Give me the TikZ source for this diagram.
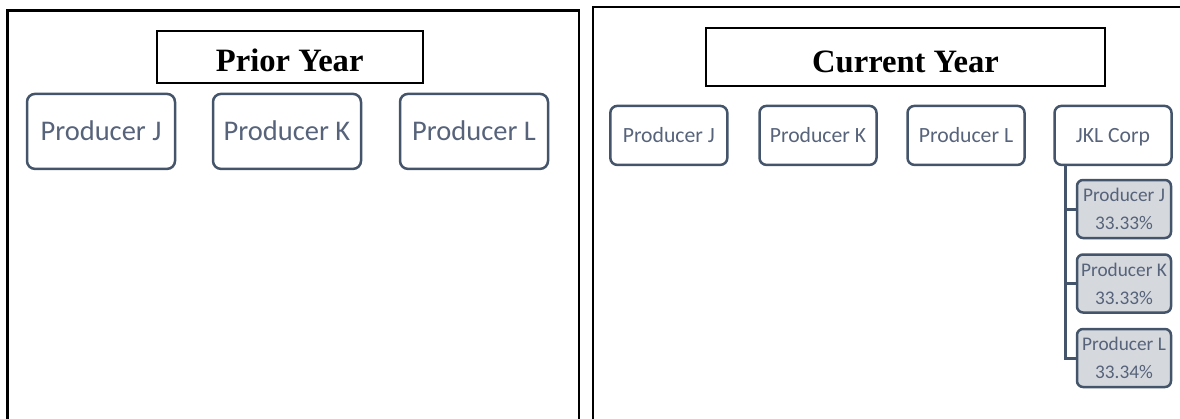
\documentclass[tikz,border=0pt]{standalone}
\usepackage{fontspec}
\setmainfont{Liberation Serif}
\newfontfamily\calfont{Carlito}
\definecolor{bord}{HTML}{44546A}
\definecolor{txt}{HTML}{56637A}
\definecolor{subfill}{HTML}{D5D8DD}
\begin{document}
\begin{tikzpicture}[x=1pt,y=-1pt,
  panel/.style={draw=black, line width=2.6pt},
  titlebox/.style={draw=black, line width=2pt, inner sep=0pt},
  titletext/.style={font=\bfseries\fontsize{32.6}{36}\selectfont, inner sep=0pt, anchor=base},
  bigbox/.style={draw=bord, line width=2.5pt, rounded corners=8pt, text=txt, inner sep=0pt,
    minimum width=148pt, minimum height=75pt, text height=18.4pt, text depth=0pt,
    font=\calfont\fontsize{28.5}{32}\selectfont},
  midbox/.style={draw=bord, line width=2.5pt, rounded corners=7pt, text=txt, inner sep=0pt,
    minimum width=117pt, minimum height=59pt, text height=14pt, text depth=0pt,
    font=\calfont\fontsize{21.7}{25}\selectfont},
  subbox/.style={draw=bord, fill=subfill, line width=2.5pt, rounded corners=6pt, text=txt, inner sep=0pt,
    minimum width=94pt, minimum height=58pt, align=center, yshift=2pt,
    font=\calfont\fontsize{19.3}{28}\selectfont},
  conn/.style={draw=bord, line width=3pt}]
\useasboundingbox (0,0) rectangle (1180,418);
\begin{scope}
\clip (0,0) rectangle (1180,418);
% panels
\draw[panel] (7.7,440) -- (7.7,10.5) -- (579,10.5) -- (579,440);
\draw[panel] (593,440) -- (593,7) -- (1200,7);
\end{scope}
% left panel
\node[titlebox, minimum width=266pt, minimum height=52pt] (pt) at (289.7,57.2) {};
\node[titletext] (ptt) at (289.7,71.7) {Prior Year};
\node[bigbox] (lj) at (101,131.4) {Producer J};
\node[bigbox] (lk) at (287,131.4) {Producer K};
\node[bigbox] (ll) at (474,131.4) {Producer L};
% right panel
\node[titlebox, minimum width=399pt, minimum height=58pt] (ct) at (905.5,56.7) {};
\node[titletext] (ctt) at (905.5,72) {Current Year};
\node[midbox] (rj) at (668.8,135.4) {Producer J};
\node[midbox] (rk) at (818,135.4) {Producer K};
\node[midbox] (rl) at (966,135.4) {Producer L};
\node[midbox] (jkl) at (1113,135.4) {JKL Corp};
\node[subbox] (s1) at (1124,211) {Producer J\\33.33\%};
\node[subbox] (s2) at (1124,285.5) {Producer K\\33.33\%};
\node[subbox] (s3) at (1124,360) {Producer L\\33.34\%};
\coordinate (trunk) at ([xshift=12pt]jkl.south west);
\draw[conn] (trunk) |- (s3.west);
\draw[conn] (s1.west) -- (s1.west -| trunk);
\draw[conn] (s2.west) -- (s2.west -| trunk);
\end{tikzpicture}
\end{document}
